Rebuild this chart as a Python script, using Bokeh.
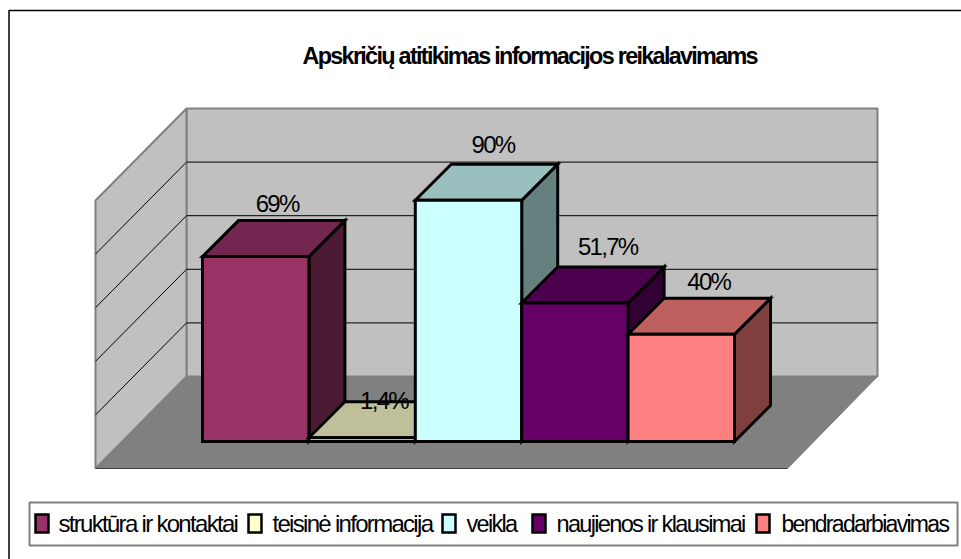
from bokeh.plotting import figure
from bokeh.models import Range1d
from bokeh.core.properties import value
from bokeh.embed import file_html
from bokeh.resources import INLINE

title = "Apskričių atitikimas informacijos reikalavimams"
categories = ["struktūra ir kontaktai", "teisinė informacija", "veikla", "naujienos ir klausimai", "bendradarbiavimas"]
values = [69, 1.4, 90, 51.7, 40]
labels = ["69%", "1,4%", "90%", "51,7%", "40%"]
front_colors = ["#993366", "#FFFFCC", "#CCFFFF", "#660066", "#FF8080"]
top_colors = ["#732650", "#BFBF99", "#99BFBF", "#4D004D", "#BF6060"]
side_colors = ["#4D1A33", "#80805F", "#668080", "#330033", "#804040"]
wall_ticks = [20, 40, 60, 80, 100]

# layout, page pixels
W, H = 961, 559
BASE = 441        # pixel row of the value 0 at the bars' front
PX_PER_PCT = 2.68
BAR_X0, BAR_W = 202, 106.4
BAR_DEPTH = 36
WALL_LEFT, WALL_RIGHT, WALL_FRONT_LEFT, FLOOR_RIGHT = 186, 877, 95, 787
WALL_BASE, FLOOR_FRONT = 376, 468
LABEL_DX = [0, -2, 3, 3, 6]
LABEL_DY = [53, 37, 56, 56, 53]
LEG_SWATCH = [35, 248, 442, 532, 756]
LEG_TEXT = [58, 272, 466, 556, 781]
LEG_FONT = ["24px", "24px", "23.5px", "23.6px", "23px"]


def py(px):
    return (BASE - px) / PX_PER_PCT


p = figure(width=W, height=H, output_backend="svg", toolbar_location=None,
           x_range=Range1d(0, W), y_range=Range1d(py(H), py(0)),
           min_border=0, outline_line_color=None, background_fill_color="white",
           border_fill_color="white", styles={"letter-spacing": "-1.7px"})
p.axis.visible = False
p.grid.visible = False

# chart frame
p.line([8.5, 8.5, W], [py(H), py(10), py(10)], line_color="black", line_width=1.5)

# title
p.text([302], [py(55)], text=[title], text_font=value("Liberation Sans"), text_font_style="bold",
       text_font_size="23.4px", text_align="left", text_baseline="middle", text_color="black")

# walls and floor
wall_top = py(WALL_BASE) + 100
side_front_top = py(FLOOR_FRONT) + 100
p.patch([WALL_LEFT, WALL_RIGHT, WALL_RIGHT, WALL_LEFT],
        [py(WALL_BASE), py(WALL_BASE), wall_top, wall_top],
        fill_color="#C0C0C0", line_color="#808080", line_width=2)
p.patch([WALL_FRONT_LEFT, WALL_LEFT, WALL_LEFT, WALL_FRONT_LEFT],
        [py(FLOOR_FRONT), py(WALL_BASE), wall_top, side_front_top],
        fill_color="#C0C0C0", line_color="#808080", line_width=2)
p.patch([WALL_FRONT_LEFT, WALL_LEFT, WALL_RIGHT, FLOOR_RIGHT],
        [py(FLOOR_FRONT), py(WALL_BASE), py(WALL_BASE), py(FLOOR_FRONT)],
        fill_color="#808080", line_color="#808080", line_width=1)
p.line([WALL_FRONT_LEFT, FLOOR_RIGHT], [py(FLOOR_FRONT), py(FLOOR_FRONT)], line_color="#404040", line_width=1)

# gridlines on both walls
for t in wall_ticks[:-1]:
    back = py(WALL_BASE) + t
    front = py(FLOOR_FRONT) + t
    p.line([WALL_LEFT, WALL_RIGHT], [back, back], line_color="black", line_width=1)
    p.line([WALL_FRONT_LEFT, WALL_LEFT], [front, back], line_color="black", line_width=1)

# bars
d = BAR_DEPTH / PX_PER_PCT
for i, v in enumerate(values):
    x0 = BAR_X0 + i * BAR_W
    x1 = x0 + BAR_W
    style = dict(line_color="black", line_width=3, line_join="miter")
    p.patch([x1, x1 + BAR_DEPTH, x1 + BAR_DEPTH, x1], [0, d, v + d, v], fill_color=side_colors[i], **style)
    p.patch([x0, x1, x1 + BAR_DEPTH, x0 + BAR_DEPTH], [v, v, v + d, v + d], fill_color=top_colors[i], **style)
    p.patch([x0, x1, x1, x0], [0, 0, v, v], fill_color=front_colors[i], **style)

# value labels
for i, v in enumerate(values):
    p.text([BAR_X0 + (i + 0.5) * BAR_W + LABEL_DX[i]], [v + LABEL_DY[i] / PX_PER_PCT], text=[labels[i]],
           text_font=value("Liberation Sans"), text_font_size="24px", text_align="left",
           text_baseline="middle", text_color="black")

# legend
p.patch([29, 957, 957, 29], [py(502), py(502), py(545), py(545)], fill_color="white",
        line_color="#808080", line_width=2)
for i, c in enumerate(categories):
    p.patch([LEG_SWATCH[i], LEG_SWATCH[i] + 13, LEG_SWATCH[i] + 13, LEG_SWATCH[i]],
            [py(514), py(514), py(532), py(532)], fill_color=front_colors[i],
            line_color="black", line_width=2.5, line_join="miter")
    p.text([LEG_TEXT[i]], [py(523)], text=[c], text_font=value("Liberation Sans"), text_font_size=LEG_FONT[i],
           text_align="left", text_baseline="middle", text_color="black")

open("out.html", "w").write(file_html(p, INLINE))
